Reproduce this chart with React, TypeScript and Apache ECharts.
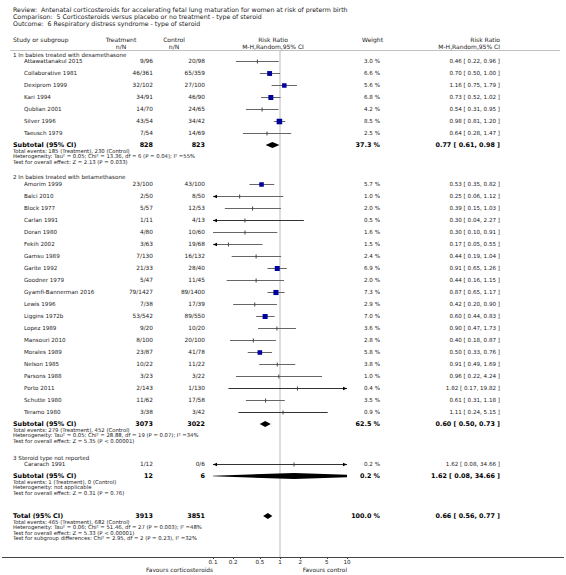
import React, { useEffect, useRef } from "react";
import * as echarts from "echarts";

const titleLines = [
  "Review:  Antenatal corticosteroids for accelerating fetal lung maturation for women at risk of preterm birth",
  "Comparison:  5 Corticosteroids versus placebo or no treatment - type of steroid",
  "Outcome:  6 Respiratory distress syndrome - type of steroid",
];

// Group 1: dexamethasone
const g1Name = "1 In babies treated with dexamethasone";
const g1Studies = ["Attawattanakul 2015", "Collaborative 1981", "Dexiprom 1999", "Kari 1994", "Qublian 2001", "Silver 1996", "Taeusch 1979"];
const g1Treat = ["9/96", "46/361", "32/102", "34/91", "14/70", "43/54", "7/54"];
const g1Ctrl = ["20/98", "65/359", "27/100", "46/90", "24/65", "34/42", "14/69"];
const g1Weight = [3.0, 6.6, 5.6, 6.8, 4.2, 8.5, 2.5];
const g1RR = [0.46, 0.70, 1.16, 0.73, 0.54, 0.98, 0.64];
const g1Lo = [0.22, 0.50, 0.75, 0.52, 0.31, 0.81, 0.28];
const g1Hi = [0.96, 1.00, 1.79, 1.02, 0.95, 1.20, 1.47];
const g1Sub = { treat: "828", ctrl: "823", weight: 37.3, rr: 0.77, lo: 0.61, hi: 0.98 };
const g1Details = [
  "Total events: 185 (Treatment), 230 (Control)",
  "Heterogeneity: Tau\u00b2 = 0.05; Chi\u00b2 = 13.36, df = 6 (P = 0.04); I\u00b2 =55%",
  "Test for overall effect: Z = 2.13 (P = 0.033)",
];

// Group 2: betamethasone
const g2Name = "2 In babies treated with betamethasone";
const g2Studies = ["Amorim 1999", "Balci 2010", "Block 1977", "Carlan 1991", "Doran 1980", "Fekih 2002", "Gamsu 1989", "Garite 1992", "Goodner 1979", "Gyamfi-Bannerman 2016", "Lewis 1996", "Liggins 1972b", "Lopez 1989", "Mansouri 2010", "Morales 1989", "Nelson 1985", "Parsons 1988", "Porto 2011", "Schutte 1980", "Teramo 1980"];
const g2Treat = ["23/100", "2/50", "5/57", "1/11", "4/80", "3/63", "7/130", "21/33", "5/47", "79/1427", "7/38", "53/542", "9/20", "8/100", "23/87", "10/22", "3/23", "2/143", "11/62", "3/38"];
const g2Ctrl = ["43/100", "8/50", "12/53", "4/13", "10/60", "19/68", "16/132", "28/40", "11/45", "89/1400", "17/39", "89/550", "10/20", "20/100", "41/78", "11/22", "3/22", "1/130", "17/58", "3/42"];
const g2Weight = [5.7, 1.0, 2.0, 0.5, 1.6, 1.5, 2.4, 6.9, 2.0, 7.3, 2.9, 7.0, 3.6, 2.8, 5.8, 3.8, 1.0, 0.4, 3.5, 0.9];
const g2RR = [0.53, 0.25, 0.39, 0.30, 0.30, 0.17, 0.44, 0.91, 0.44, 0.87, 0.42, 0.60, 0.90, 0.40, 0.50, 0.91, 0.96, 1.82, 0.61, 1.11];
const g2Lo = [0.35, 0.06, 0.15, 0.04, 0.10, 0.05, 0.19, 0.65, 0.16, 0.65, 0.20, 0.44, 0.47, 0.18, 0.33, 0.49, 0.22, 0.17, 0.31, 0.24];
const g2Hi = [0.82, 1.12, 1.03, 2.27, 0.91, 0.55, 1.04, 1.26, 1.15, 1.17, 0.90, 0.83, 1.73, 0.87, 0.76, 1.69, 4.24, 19.82, 1.18, 5.15];
const g2Sub = { treat: "3073", ctrl: "3022", weight: 62.5, rr: 0.60, lo: 0.50, hi: 0.73 };
const g2Details = [
  "Total events: 279 (Treatment), 452 (Control)",
  "Heterogeneity: Tau\u00b2 = 0.05; Chi\u00b2 = 28.88, df = 19 (P = 0.07); I\u00b2 =34%",
  "Test for overall effect: Z = 5.35 (P < 0.00001)",
];

// Group 3: not reported
const g3Name = "3 Steroid type not reported";
const g3Studies = ["Cararach 1991"];
const g3Treat = ["1/12"];
const g3Ctrl = ["0/6"];
const g3Weight = [0.2];
const g3RR = [1.62];
const g3Lo = [0.08];
const g3Hi = [34.66];
const g3Sub = { treat: "12", ctrl: "6", weight: 0.2, rr: 1.62, lo: 0.08, hi: 34.66 };
const g3Details = [
  "Total events: 1 (Treatment), 0 (Control)",
  "Heterogeneity: not applicable",
  "Test for overall effect: Z = 0.31 (P = 0.76)",
];

const totalSub = { treat: "3913", ctrl: "3851", weight: 100.0, rr: 0.66, lo: 0.56, hi: 0.77 };
const totalDetails = [
  "Total events: 465 (Treatment), 682 (Control)",
  "Heterogeneity: Tau\u00b2 = 0.06; Chi\u00b2 = 51.46, df = 27 (P = 0.003); I\u00b2 =48%",
  "Test for overall effect: Z = 5.33 (P < 0.00001)",
  "Test for subgroup differences: Chi\u00b2 = 2.95, df = 2 (P = 0.23), I\u00b2 =32%",
];

const axisTicks = [0.1, 0.2, 0.5, 1, 2, 5, 10];

// ---- layout constants ----
const FONT = "'DejaVu Sans', Verdana, sans-serif";
const ROW = 12;
const X_NAME = 13, X_INDENT = 24, X_TREAT = 153, X_CTRL = 205, X_WEIGHT = 380, X_RR = 500;
const X_PLOTHEAD = 273;
const AXIS_Y = 557;
const groupsLayout = [
  { header: 55, first: 61 },
  { header: 177, first: 184 },
  { header: 458, first: 464 },
];
const TOTAL_Y = 516;
const DETAIL_STEP = 5.3;
const TEXT = "#1a1a1a";

const fmt2 = (v: number) => v.toFixed(2);
const ciText = (rr: number, lo: number, hi: number) => `${fmt2(rr)} [ ${fmt2(lo)}, ${fmt2(hi)} ]`;

export default function App() {
  const ref = useRef<HTMLDivElement>(null);
  useEffect(() => {
    if (!ref.current) return;
    const chart = echarts.init(ref.current, undefined, { renderer: "svg" });

    const texts: any[] = [];
    const txt = (text: string, x: number, y: number, opts: any = {}) => {
      texts.push({
        type: "text",
        x,
        y,
        silent: true,
        style: {
          text,
          fontSize: opts.size ?? 5.6,
          fontFamily: FONT,
          fontWeight: opts.bold ? "bold" : "normal",
          fill: opts.color ?? (opts.bold ? "#000" : TEXT),
          align: opts.align ?? "left",
          verticalAlign: "middle",
        },
      });
    };

    titleLines.forEach((t, i) => txt(t, X_NAME, 9 + i * 7, { size: 6.25 }));
    txt("Study or subgroup", X_NAME, 39, { size: 6 });
    txt("Treatment", 121, 39, { size: 6, align: "center" });
    txt("n/N", 121, 46, { size: 6, align: "center" });
    txt("Control", 174, 39, { size: 6, align: "center" });
    txt("n/N", 174, 46, { size: 6, align: "center" });
    txt("Risk Ratio", X_PLOTHEAD, 39, { size: 6, align: "center" });
    txt("M-H,Random,95% CI", X_PLOTHEAD, 46, { size: 6, align: "center" });
    txt("Weight", X_WEIGHT + 3, 39, { size: 6, align: "right" });
    txt("Risk Ratio", X_RR, 39, { size: 6, align: "right" });
    txt("M-H,Random,95% CI", X_RR, 46, { size: 6, align: "right" });

    const groups = [
      { name: g1Name, studies: g1Studies, treat: g1Treat, ctrl: g1Ctrl, w: g1Weight, rr: g1RR, lo: g1Lo, hi: g1Hi, sub: g1Sub, details: g1Details },
      { name: g2Name, studies: g2Studies, treat: g2Treat, ctrl: g2Ctrl, w: g2Weight, rr: g2RR, lo: g2Lo, hi: g2Hi, sub: g2Sub, details: g2Details },
      { name: g3Name, studies: g3Studies, treat: g3Treat, ctrl: g3Ctrl, w: g3Weight, rr: g3RR, lo: g3Lo, hi: g3Hi, sub: g3Sub, details: g3Details },
    ];

    const studyData: any[] = [];
    const diamondData: any[] = [];

    const subtotalRow = (label: string, s: any, y: number, details: string[]) => {
      txt(label, X_NAME, y, { bold: true, size: 6.4 });
      txt(s.treat, X_TREAT, y, { bold: true, size: 6.4, align: "right" });
      txt(s.ctrl, X_CTRL, y, { bold: true, size: 6.4, align: "right" });
      txt(`${s.weight.toFixed(1)} %`, X_WEIGHT, y, { bold: true, size: 6.4, align: "right" });
      txt(ciText(s.rr, s.lo, s.hi), X_RR, y, { bold: true, size: 6.4, align: "right" });
      details.forEach((d, i) => txt(d, X_NAME, y + 6 + i * DETAIL_STEP, { size: 5.3 }));
      diamondData.push([Math.log10(s.rr), Math.log10(s.lo), Math.log10(s.hi), y]);
    };

    groups.forEach((g, gi) => {
      const L = groupsLayout[gi];
      txt(g.name, X_NAME, L.header, { size: 5.6 });
      g.studies.forEach((st, i) => {
        const y = L.first + i * ROW;
        txt(st, X_INDENT, y, { size: 5.6 });
        txt(g.treat[i], X_TREAT, y, { size: 5.8, align: "right" });
        txt(g.ctrl[i], X_CTRL, y, { size: 5.8, align: "right" });
        txt(`${g.w[i].toFixed(1)} %`, X_WEIGHT, y, { size: 5.6, align: "right" });
        txt(ciText(g.rr[i], g.lo[i], g.hi[i]), X_RR, y, { size: 5.6, align: "right" });
        studyData.push([Math.log10(g.rr[i]), Math.log10(g.lo[i]), Math.log10(g.hi[i]), y, g.w[i]]);
      });
      subtotalRow("Subtotal (95% CI)", g.sub, L.first + g.studies.length * ROW, g.details);
    });
    subtotalRow("Total (95% CI)", totalSub, TOTAL_Y, totalDetails);

    txt("Favours corticosteroids", 213, 570, { size: 5.8, align: "right" });
    txt("Favours control", 347, 570, { size: 5.8, align: "right" });

    const lines: any[] = [
      { type: "line", silent: true, shape: { x1: 10, y1: 50.5, x2: 560, y2: 50.5 }, style: { stroke: "#999", lineWidth: 0.6 } },
      { type: "line", silent: true, shape: { x1: 2, y1: AXIS_Y + 0.5, x2: 564, y2: AXIS_Y + 0.5 }, style: { stroke: "#444", lineWidth: 1 } },
    ];

    const XMIN = -1, XMAX = 1;
    const option: any = {
      animation: false,
      grid: { left: 213, right: 219, top: 0, bottom: 575 - AXIS_Y, containLabel: false },
      xAxis: {
        type: "value",
        min: XMIN,
        max: XMAX,
        axisLine: { show: true, onZero: false, lineStyle: { color: "#444", width: 1 } },
        axisTick: { show: true, customValues: axisTicks.map(Math.log10), length: 2, lineStyle: { color: "#444" } },
        axisLabel: {
          customValues: axisTicks.map(Math.log10),
          formatter: (v: number) => {
            const n = Math.pow(10, v);
            return n < 0.95 ? n.toFixed(1) : String(Math.round(n));
          },
          fontSize: 5.6,
          fontFamily: FONT,
          color: TEXT,
          margin: 2,
        },
        splitLine: { show: false },
      },
      yAxis: { type: "value", inverse: true, min: 0, max: AXIS_Y, show: false },
      series: [
        {
          type: "line",
          silent: true,
          symbol: "none",
          data: [[0, 51], [0, AXIS_Y]],
          lineStyle: { color: "#ddd", width: 2 },
          z: 1,
        },
        {
          type: "custom",
          silent: true,
          clip: true,
          z: 3,
          data: studyData,
          renderItem: (params: any, api: any) => {
            const rr = api.value(0), lo = api.value(1), hi = api.value(2), y = api.value(3), w = api.value(4);
            const pL = api.coord([Math.max(lo, XMIN), y]);
            const pH = api.coord([Math.min(hi, XMAX), y]);
            const pC = api.coord([rr, y]);
            const yy = Math.round(pC[1]) + 0.5;
            const children: any[] = [];
            const lineColor = w < 1 ? "#333" : "#666";
            children.push({ type: "line", shape: { x1: pL[0], y1: yy, x2: pH[0], y2: yy }, style: { stroke: lineColor, lineWidth: 1 } });
            if (lo < XMIN) {
              children.push({ type: "polygon", shape: { points: [[pL[0], yy], [pL[0] + 4, yy - 1.8], [pL[0] + 4, yy + 1.8]] }, style: { fill: "#000" } });
            }
            if (hi > XMAX) {
              children.push({ type: "polygon", shape: { points: [[pH[0], yy], [pH[0] - 4, yy - 1.8], [pH[0] - 4, yy + 1.8]] }, style: { fill: "#000" } });
            }
            if (w >= 5) {
              const s = 1.9 * Math.sqrt(w);
              children.push({ type: "rect", shape: { x: pC[0] - s / 2, y: yy - s / 2, width: s, height: s }, style: { fill: "#00009c" } });
            } else {
              children.push({ type: "line", shape: { x1: pC[0], y1: yy - 2, x2: pC[0], y2: yy + 2 }, style: { stroke: "#444", lineWidth: 1 } });
            }
            return { type: "group", children };
          },
        },
        {
          type: "custom",
          silent: true,
          clip: true,
          z: 3,
          data: diamondData,
          renderItem: (params: any, api: any) => {
            const rr = api.value(0), lo = api.value(1), hi = api.value(2), y = api.value(3);
            const pL = api.coord([lo, y]);
            const pH = api.coord([hi, y]);
            const pC = api.coord([rr, y]);
            const h = 3;
            return {
              type: "polygon",
              shape: { points: [[pL[0], pC[1]], [pC[0], pC[1] - h], [pH[0], pC[1]], [pC[0], pC[1] + h]] },
              style: { fill: "#000" },
            };
          },
        },
      ],
      graphic: [...lines, ...texts],
    };
    chart.setOption(option);
    return () => chart.dispose();
  }, []);
  return <div ref={ref} style={{ position: "fixed", left: 0, top: 0, width: 566, height: 575, background: "#fff" }} />;
}
